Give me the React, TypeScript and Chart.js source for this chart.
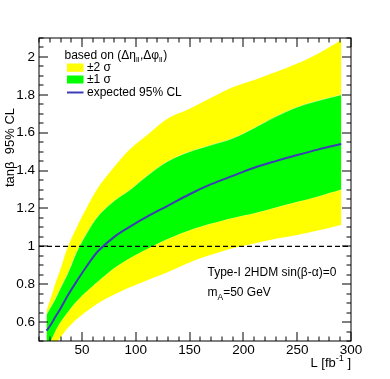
import React, { useEffect, useRef } from 'react';
import { Chart, registerables } from 'chart.js';

Chart.register(...registerables);

// Integrated luminosity [fb^-1]
const lumi = [17, 20, 25, 30, 37, 45, 55, 65, 80, 95, 110, 130, 150, 170, 190, 210, 230, 250, 270, 291];
// Expected 95% CL limit on tanβ
const expected = [0.555, 0.578, 0.625, 0.672, 0.743, 0.815, 0.9, 0.975, 1.05, 1.105, 1.155, 1.215, 1.275, 1.328, 1.372, 1.415, 1.45, 1.482, 1.512, 1.54];
// ±1σ band
const sigma1Low = [0.47, 0.49, 0.55, 0.6, 0.655, 0.71, 0.765, 0.815, 0.885, 0.94, 0.985, 1.04, 1.085, 1.12, 1.15, 1.175, 1.205, 1.235, 1.265, 1.3];
const sigma1High = [0.64, 0.67, 0.72, 0.78, 0.86, 0.97, 1.075, 1.16, 1.24, 1.3, 1.37, 1.45, 1.5, 1.535, 1.57, 1.625, 1.685, 1.735, 1.77, 1.8];
// ±2σ band
const sigma2Low = [0.43, 0.45, 0.48, 0.52, 0.57, 0.615, 0.66, 0.7, 0.745, 0.785, 0.82, 0.865, 0.915, 0.955, 0.99, 1.015, 1.04, 1.06, 1.085, 1.113];
const sigma2High = [0.66, 0.71, 0.8, 0.88, 1.0, 1.1, 1.21, 1.31, 1.42, 1.515, 1.585, 1.676, 1.727, 1.785, 1.84, 1.878, 1.92, 1.965, 2.02, 2.09];

const referenceLine = [10, 300];
const referenceLevel = 1;

const xTickValues = [50, 100, 150, 200, 250, 300];
const yTickValues = [0.6, 0.8, 1.0, 1.2, 1.4, 1.6, 1.8, 2.0];
const xMinorStep = 10;
const yMinorStep = 0.05;
const xRange = [10, 300];
const yRange = [0.5, 2.1];

const legendTitle = ['based on (Δη', 'll', ',Δφ', 'll', ')'];
const legendLabels = ['±2 σ', '±1 σ', 'expected 95% CL'];
const modelText = 'Type-I 2HDM sin(β-α)=0';
const massText = ['m', 'A', '=50 GeV'];
const yTitle = 'tanβ  95% CL';
const xTitle = ['L [fb', '-1', ' ]'];

const FONT = '"Liberation Sans", Arial, Helvetica, sans-serif';
const YELLOW = '#ffff00';
const GREEN = '#00ff00';
const BLUE = '#3c3cb4';

const pts = (ys: number[]) => lumi.map((x, i) => ({ x, y: ys[i] }));

const rootStyle = {
  id: 'rootStyle',
  afterDraw(chart: any) {
    const { ctx, chartArea: a, scales } = chart;
    const xs = scales.x;
    const ys = scales.y;
    ctx.save();
    // frame + inward ticks
    ctx.strokeStyle = '#000';
    ctx.lineWidth = 1;
    ctx.beginPath();
    for (let v = xRange[0]; v <= xRange[1] + 1e-9; v += xMinorStep) {
      const px = Math.round(xs.getPixelForValue(v));
      const len = Math.abs(v % 50) < 1e-9 ? 9 : 4.5;
      ctx.moveTo(px, a.bottom);
      ctx.lineTo(px, a.bottom - len);
      ctx.moveTo(px, a.top);
      ctx.lineTo(px, a.top + len);
    }
    const n = Math.round((yRange[1] - yRange[0]) / yMinorStep);
    for (let i = 0; i <= n; i++) {
      const v = yRange[0] + i * yMinorStep;
      const py = Math.round(ys.getPixelForValue(v));
      const r = v / 0.2;
      const len = Math.abs(r - Math.round(r)) < 1e-6 ? 9 : 4.5;
      ctx.moveTo(a.left, py);
      ctx.lineTo(a.left + len, py);
      ctx.moveTo(a.right, py);
      ctx.lineTo(a.right - len, py);
    }
    ctx.stroke();
    ctx.strokeRect(a.left, a.top, a.right - a.left, a.bottom - a.top);

    ctx.fillStyle = '#000';
    ctx.textBaseline = 'alphabetic';
    ctx.textAlign = 'left';

    // legend
    const lx = a.left + 25.5;
    let cx = lx;
    legendTitle.forEach((t, i) => {
      const sub = i % 2 === 1;
      ctx.font = `${sub ? 8 : 12}px ${FONT}`;
      ctx.fillText(t, cx, sub ? 61.5 : 58.5);
      cx += ctx.measureText(t).width + (sub ? 0.5 : 0);
    });
    const bx = lx + 2.5;
    ctx.fillStyle = YELLOW;
    ctx.fillRect(bx, 63.5, 16.5, 8.3);
    ctx.fillStyle = GREEN;
    ctx.fillRect(bx, 75.5, 16.5, 8);
    ctx.strokeStyle = BLUE;
    ctx.lineWidth = 2;
    ctx.beginPath();
    ctx.moveTo(bx, 92.5);
    ctx.lineTo(bx + 16.5, 92.5);
    ctx.stroke();
    ctx.fillStyle = '#000';
    ctx.font = `12px ${FONT}`;
    ctx.fillText(legendLabels[0], bx + 20, 70.8);
    ctx.fillText(legendLabels[1], bx + 20, 83.2);
    ctx.fillText(legendLabels[2], bx + 20, 96.2);

    // model annotation
    ctx.fillText(modelText, 207.5, 275.5);
    let mx = 207.5;
    ctx.font = `12px ${FONT}`;
    ctx.fillText(massText[0], mx, 296);
    mx += ctx.measureText(massText[0]).width;
    ctx.font = `8.5px ${FONT}`;
    ctx.fillText(massText[1], mx, 299.5);
    mx += ctx.measureText(massText[1]).width;
    ctx.font = `12px ${FONT}`;
    ctx.fillText(massText[2], mx, 296);

    // x title (right aligned at frame end)
    ctx.font = `13px ${FONT}`;
    const w0 = ctx.measureText(xTitle[0]).width;
    const w2 = ctx.measureText(xTitle[2]).width;
    ctx.font = `9px ${FONT}`;
    const w1 = ctx.measureText(xTitle[1]).width;
    let tx = a.right - (w0 + w1 + w2);
    ctx.font = `13px ${FONT}`;
    ctx.fillText(xTitle[0], tx, 366.5);
    tx += w0;
    ctx.font = `9px ${FONT}`;
    ctx.fillText(xTitle[1], tx, 361);
    tx += w1;
    ctx.font = `13px ${FONT}`;
    ctx.fillText(xTitle[2], tx, 366.5);

    // y title (rotated, right aligned near top)
    ctx.translate(13.5, 108);
    ctx.rotate(-Math.PI / 2);
    ctx.textAlign = 'right';
    ctx.font = `13px ${FONT}`;
    ctx.fillText(yTitle, 0, 0);
    ctx.restore();
  },
};

export default function App() {
  const ref = useRef<HTMLCanvasElement | null>(null);

  useEffect(() => {
    document.body.style.margin = '0';
    const canvas = ref.current;
    if (!canvas) return;
    const smooth = { tension: 0.35, cubicInterpolationMode: 'default' as const };
    const chart = new Chart(canvas, {
      type: 'line',
      data: {
        datasets: [
          {
            label: 'expected 95% CL',
            data: pts(expected),
            borderColor: BLUE,
            borderWidth: 2,
            pointRadius: 0,
            fill: false,
            ...smooth,
          },
          {
            label: 'reference',
            data: referenceLine.map((x) => ({ x, y: referenceLevel })),
            borderColor: '#000',
            borderWidth: 1.2,
            borderDash: [5, 3],
            pointRadius: 0,
            fill: false,
          },
          {
            label: '±1 σ high',
            data: pts(sigma1High),
            borderColor: 'rgba(255,255,255,0.6)',
            borderWidth: 0.8,
            backgroundColor: GREEN,
            pointRadius: 0,
            fill: '+1',
            ...smooth,
          },
          {
            label: '±1 σ low',
            data: pts(sigma1Low),
            borderColor: 'rgba(255,255,255,0.6)',
            borderWidth: 0.8,
            pointRadius: 0,
            fill: false,
            ...smooth,
          },
          {
            label: '±2 σ high',
            data: pts(sigma2High),
            borderWidth: 0,
            backgroundColor: YELLOW,
            pointRadius: 0,
            fill: '+1',
            ...smooth,
          },
          {
            label: '±2 σ low',
            data: pts(sigma2Low),
            borderWidth: 0,
            pointRadius: 0,
            fill: false,
            ...smooth,
          },
        ],
      },
      options: {
        responsive: false,
        animation: false,
        layout: { padding: { top: 38, right: 39, left: 0, bottom: 0 } },
        plugins: { legend: { display: false }, tooltip: { enabled: false } },
        scales: {
          x: {
            type: 'linear',
            min: xRange[0],
            max: xRange[1],
            grid: { display: false, drawTicks: false },
            border: { display: false },
            afterBuildTicks: (s: any) => {
              s.ticks = xTickValues.map((value) => ({ value }));
            },
            afterFit: (s: any) => {
              s.height = 38;
            },
            ticks: {
              color: '#000',
              padding: 1,
              maxRotation: 0,
              font: { family: FONT, size: 13.5 },
              callback: (v: any) => String(v),
            },
          },
          y: {
            type: 'linear',
            min: yRange[0],
            max: yRange[1],
            grid: { display: false, drawTicks: false },
            border: { display: false },
            afterBuildTicks: (s: any) => {
              s.ticks = yTickValues.map((value) => ({ value }));
            },
            afterFit: (s: any) => {
              s.width = 39;
            },
            ticks: {
              color: '#000',
              padding: 4,
              font: { family: FONT, size: 13.5 },
              callback: (v: any) => String(Math.round(Number(v) * 10) / 10),
            },
          },
        },
      },
      plugins: [rootStyle],
    });
    return () => chart.destroy();
  }, []);

  return (
    <div style={{ position: 'absolute', left: 0, top: 0, width: 390, height: 379, background: '#fff' }}>
      <canvas ref={ref} width={390} height={379} />
    </div>
  );
}
